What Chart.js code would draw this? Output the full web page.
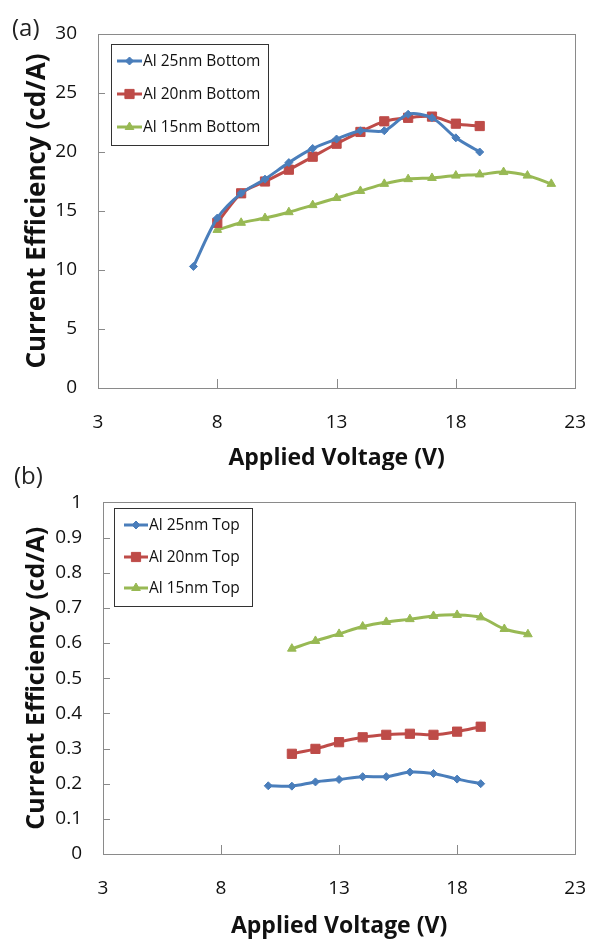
<!DOCTYPE html>
<html>
<head>
<meta charset="utf-8">
<title>Current efficiency vs applied voltage</title>
<script src="https://cdn.jsdelivr.net/npm/chart.js@4.4.0/dist/chart.umd.min.js"></script>
<style>
  html, body { margin: 0; padding: 0; background: #fff; }
  #wrap { position: relative; width: 609px; height: 940px; overflow: hidden; font-family: 'Open Sans', sans-serif; }
  .panel { position: absolute; left: 0; width: 609px; height: 470px; }
  .tag { position: absolute; font-size: 24px; line-height: 1; color: #222; }
</style>
</head>
<body>
<div id="wrap">
  <div class="panel" style="top:0"><canvas id="chartA" width="609" height="470"></canvas></div>
  <div class="panel" style="top:470px"><canvas id="chartB" width="609" height="470"></canvas></div>
  <span class="tag" style="left:12px;top:15px">(a)</span>
  <span class="tag" style="left:14px;top:463px">(b)</span>
</div>
<script>
// ---------- DATA ----------
// (a) bottom emission
const voltA25 = [7, 8, 9, 10, 11, 12, 13, 14, 15, 16, 17, 18, 19];
const effA25  = [10.3, 14.4, 16.5, 17.7, 19.1, 20.3, 21.1, 21.8, 21.8, 23.2, 22.9, 21.2, 20.0];
const voltA20 = [8, 9, 10, 11, 12, 13, 14, 15, 16, 17, 18, 19];
const effA20  = [14.0, 16.5, 17.5, 18.5, 19.6, 20.7, 21.7, 22.6, 22.9, 23.0, 22.4, 22.2];
const voltA15 = [8, 9, 10, 11, 12, 13, 14, 15, 16, 17, 18, 19, 20, 21, 22];
const effA15  = [13.4, 14.0, 14.4, 14.9, 15.5, 16.1, 16.7, 17.3, 17.7, 17.8, 18.0, 18.1, 18.3, 18.0, 17.3];

// (b) top emission
const voltB25 = [10, 11, 12, 13, 14, 15, 16, 17, 18, 19];
const effB25  = [0.194, 0.193, 0.205, 0.212, 0.220, 0.220, 0.233, 0.229, 0.213, 0.200];
const voltB20 = [11, 12, 13, 14, 15, 16, 17, 18, 19];
const effB20  = [0.285, 0.299, 0.318, 0.332, 0.339, 0.342, 0.339, 0.348, 0.362];
const voltB15 = [11, 12, 13, 14, 15, 16, 17, 18, 19, 20, 21];
const effB15  = [0.584, 0.606, 0.626, 0.647, 0.660, 0.668, 0.677, 0.680, 0.673, 0.640, 0.625];

const labelsA = ['Al 25nm Bottom', 'Al 20nm Bottom', 'Al 15nm Bottom'];
const labelsB = ['Al 25nm Top', 'Al 20nm Top', 'Al 15nm Top'];

const xTicks  = [3, 8, 13, 18, 23];
const yTicksA = [0, 5, 10, 15, 20, 25, 30];
const yTicksB = [0, 0.1, 0.2, 0.3, 0.4, 0.5, 0.6, 0.7, 0.8, 0.9, 1];

const xTitle = 'Applied Voltage (V)';
const yTitle = 'Current Efficiency (cd/A)';

// ---------- STYLE ----------
const BLUE = '#4A7EBB', RED = '#BE4B48', GREEN = '#98B954';
const FRAME = '#8a8a8a';
Chart.defaults.font.family = "'Open Sans', sans-serif";
Chart.defaults.color = '#111';

const pts = (xs, ys) => xs.map((x, i) => ({ x: x, y: ys[i] }));

function series(label, xs, ys, color, style, r) {
  return {
    label: label,
    data: pts(xs, ys),
    borderColor: color,
    backgroundColor: color,
    borderWidth: 3,
    tension: 0.3,
    pointStyle: style,
    pointRadius: r,
    pointHoverRadius: r,
    pointBorderWidth: 1,
    pointBorderColor: color,
    pointBackgroundColor: color
  };
}

// box round the plot + little inward tick marks (Excel style)
const frameTicks = {
  id: 'frameTicks',
  beforeDatasetsDraw(chart, args, opts) {
    const { ctx, chartArea: a, scales } = chart;
    ctx.save();
    ctx.strokeStyle = FRAME;
    ctx.lineWidth = 1;
    ctx.strokeRect(Math.round(a.left) + 0.5, Math.round(a.top) + 0.5,
                   Math.round(a.right - a.left), Math.round(a.bottom - a.top));
    ctx.beginPath();
    scales.x.ticks.forEach(t => {
      const px = Math.round(scales.x.getPixelForValue(t.value)) + 0.5;
      ctx.moveTo(px, a.bottom);
      ctx.lineTo(px, a.bottom - opts.xLen);
    });
    scales.y.ticks.forEach(t => {
      const py = Math.round(scales.y.getPixelForValue(t.value)) + 0.5;
      ctx.moveTo(a.left, py);
      ctx.lineTo(a.left + opts.yLen, py);
    });
    ctx.stroke();
    ctx.restore();
  }
};

// legend with a frame, a line sample and the marker on it
const boxLegend = {
  id: 'boxLegend',
  afterDatasetsDraw(chart, args, opts) {
    const ctx = chart.ctx;
    const [bx, by, bw, bh] = opts.box;
    ctx.save();
    ctx.fillStyle = '#fff';
    ctx.fillRect(bx, by, bw, bh);
    ctx.strokeStyle = '#333';
    ctx.lineWidth = 1;
    ctx.strokeRect(bx + 0.5, by + 0.5, bw, bh);
    chart.data.datasets.forEach((ds, i) => {
      const y = opts.rows[i];
      ctx.strokeStyle = ds.borderColor;
      ctx.lineWidth = 3;
      ctx.beginPath();
      ctx.moveTo(opts.line[0], y);
      ctx.lineTo(opts.line[1], y);
      ctx.stroke();
      ctx.fillStyle = ds.pointBackgroundColor;
      ctx.strokeStyle = ds.pointBorderColor;
      ctx.lineWidth = 1;
      Chart.helpers.drawPoint(ctx, { pointStyle: ds.pointStyle, radius: ds.pointRadius, rotation: 0, borderWidth: 1 },
        (opts.line[0] + opts.line[1]) / 2, y);
      ctx.fillStyle = '#111';
      ctx.font = opts.fontSize + "px 'Open Sans', sans-serif";
      ctx.textBaseline = 'middle';
      ctx.textAlign = 'left';
      ctx.fillText(ds.label, opts.textX, y + 1);
    });
    ctx.restore();
  }
};

function makeChart(id, cfg) {
  const el = document.getElementById(id);
  if (!el) return null;
  return new Chart(el, {
    type: 'line',
    data: { datasets: cfg.datasets },
    options: {
      responsive: false,
      animation: false,
      events: [],
      layout: { padding: cfg.padding },
      plugins: {
        legend: { display: false },
        tooltip: { enabled: false },
        frameTicks: { xLen: 9, yLen: 7 },
        boxLegend: cfg.legend
      },
      scales: {
        x: {
          type: 'linear',
          min: xTicks[0],
          max: xTicks[xTicks.length - 1],
          afterBuildTicks: s => { s.ticks = xTicks.map(v => ({ value: v })); },
          afterFit: s => { s.height = cfg.xHeight; },
          grid: { display: false, drawTicks: false },
          border: { display: false },
          ticks: { font: { size: 19 }, padding: 23, maxRotation: 0, autoSkip: false, callback: v => String(v) },
          title: {
            display: true, text: xTitle,
            font: { size: 23, weight: 'bold', lineHeight: 1 },
            padding: { top: 0, bottom: cfg.xTitlePad }
          }
        },
        y: {
          min: cfg.yTicks[0],
          max: cfg.yTicks[cfg.yTicks.length - 1],
          afterBuildTicks: s => { s.ticks = cfg.yTicks.map(v => ({ value: v })); },
          afterFit: s => { s.width = cfg.yWidth; },
          grid: { display: false, drawTicks: false },
          border: { display: false },
          ticks: { font: { size: 19 }, padding: 21, autoSkip: false, callback: v => String(v) },
          title: {
            display: true, text: yTitle,
            font: { size: cfg.yTitleSize, weight: 'bold', lineHeight: 1 },
            padding: { top: cfg.yTitlePad, bottom: 0 }
          }
        }
      }
    },
    plugins: [frameTicks, boxLegend]
  });
}

document.addEventListener('DOMContentLoaded', function () {

  // ---------- (a) BOTTOM ----------
  makeChart('chartA', {
    datasets: [
      series(labelsA[0], voltA25, effA25, BLUE, 'rectRot', 4),
      series(labelsA[1], voltA20, effA20, RED, 'rect', 6.5),
      series(labelsA[2], voltA15, effA15, GREEN, 'triangle', 5)
    ],
    yTicks: yTicksA,
    padding: { top: 34, right: 23, bottom: 0, left: 0 },
    yWidth: 98,
    xHeight: 82,
    xTitlePad: 0,
    yTitleSize: 26,
    yTitlePad: 25,
    legend: { box: [111, 44, 157, 101], rows: [61, 94, 127], line: [117, 142], textX: 143, fontSize: 15.5 }
  });

  // ---------- (b) TOP ----------
  makeChart('chartB', {
    datasets: [
      series(labelsB[0], voltB25, effB25, BLUE, 'rectRot', 4),
      series(labelsB[1], voltB20, effB20, RED, 'rect', 6.5),
      series(labelsB[2], voltB15, effB15, GREEN, 'triangle', 5)
    ],
    yTicks: yTicksB,
    padding: { top: 31, right: 25, bottom: 0, left: 0 },
    yWidth: 103,
    xHeight: 86,
    xTitlePad: 2,
    yTitleSize: 25,
    yTitlePad: 24,
    legend: { box: [114, 38, 138, 98], rows: [55, 87, 118], line: [124, 148], textX: 149, fontSize: 15.5 }
  });

});
</script>
</body>
</html>
